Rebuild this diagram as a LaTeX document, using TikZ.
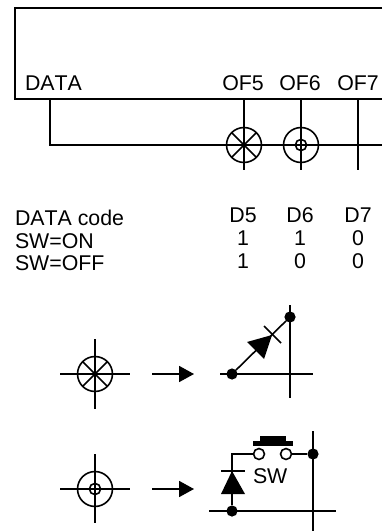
\documentclass[tikz,border=0pt]{standalone}
\usepackage{fontspec}
\setmainfont[Kerning=Off]{Liberation Sans}
\usetikzlibrary{arrows.meta}
\usetikzlibrary{positioning}

\begin{document}
\begin{tikzpicture}[x=0.75pt,y=-0.75pt,line width=1.2pt]
\tikzstyle{txt}=[inner sep=0pt,outer sep=0pt,font=\fontsize{16}{16}\selectfont]
\tikzstyle{lamp}=[circle,draw=black,outer sep=0pt,inner sep=0pt,minimum size=26.2pt]
\tikzstyle{core}=[circle,draw=black,outer sep=0pt,inner sep=0pt,minimum size=8.4pt]
\tikzstyle{contact}=[circle,draw=black,fill=white,outer sep=0pt,inner sep=0pt,minimum size=8.2pt]
\tikzstyle{dot}=[circle,fill=black,outer sep=0pt,inner sep=0pt,minimum size=8.4pt]
\tikzstyle{goes}=[-{Triangle[length=11.2pt,width=12pt]}]
\useasboundingbox (0,0) rectangle (382,531);

% top block
\coordinate (boxtr) at (382,8);
\coordinate (boxtl) at (15,8);
\coordinate (boxbl) at (15,99);
\coordinate (boxbr) at (382,99);
\draw (boxtr) -- (boxtl) -- (boxbl) -- (boxbr);
\node[txt,anchor=base west] (data) at (25,91) {DATA};
\node[txt,anchor=base] (of5) at (243,91) {OF5};
\node[txt,anchor=base] (of6) at (300,91) {OF6};
\node[txt,anchor=base] (of7) at (358,91) {OF7};

% wiring
\coordinate (datatop) at (50,99);
\coordinate (datacorner) at (50,145);
\coordinate (dataend) at (382,145);
\draw (datatop) -- (datacorner) -- (dataend);
\foreach \name/\x in {five/244,six/301,seven/358} {
  \coordinate (\name top) at (\x,99);
  \coordinate (\name bot) at (\x,170);
  \draw (\name top) -- (\name bot);
}
\node[lamp] (lampa) at (244,145) {};
\node[lamp] (lampb) at (301,145) {};
\node[core] (corea) at (301,145) {};
\draw (lampa.north west) -- (lampa.south east);
\draw (lampa.north east) -- (lampa.south west);

% code table
\node[txt,anchor=base west] (code) at (15,225) {DATA code};
\node[txt,anchor=base west] (swon) at (15,248) {SW=ON};
\node[txt,anchor=base west] (swoff) at (15,270) {SW=OFF};
\node[txt,anchor=base] (d5) at (243,222) {D5};
\node[txt,anchor=base] (d6) at (300,222) {D6};
\node[txt,anchor=base] (d7) at (358,222) {D7};
\node[txt,anchor=base] (ona) at (243,245) {1};
\node[txt,anchor=base] (onb) at (300,245) {1};
\node[txt,anchor=base] (onc) at (358,245) {0};
\node[txt,anchor=base] (offa) at (243,268) {1};
\node[txt,anchor=base] (offb) at (300,268) {0};
\node[txt,anchor=base] (offc) at (358,268) {0};

% first key
\coordinate (la) at (60,374);
\coordinate (ra) at (130,374);
\coordinate (ua) at (95,339);
\coordinate (da) at (95,409);
\draw (la) -- (ra);
\draw (ua) -- (da);
\node[lamp] (lampc) at (95,374) {};
\draw (lampc.north west) -- (lampc.south east);
\draw (lampc.north east) -- (lampc.south west);
\coordinate (arra) at (152,374);
\coordinate (arrb) at (194,374);
\draw[goes] (arra) -- (arrb);

\coordinate (hl) at (220,374);
\coordinate (hr) at (313,374);
\coordinate (vu) at (290,305);
\coordinate (vd) at (290,398);
\draw (hl) -- (hr);
\draw (vu) -- (vd);
\node[dot] (anode) at (232,374) {};
\node[dot] (cathode) at (290,317) {};
\draw (anode) -- (cathode);
\fill (272,335) -- (247,342) -- (264,359) -- cycle;
\coordinate (bara) at (264,326);
\coordinate (barb) at (281,343);
\draw (bara) -- (barb);

% second key
\coordinate (lb) at (60,489);
\coordinate (rb) at (130,489);
\coordinate (ub) at (95,454);
\coordinate (db) at (95,523);
\draw (lb) -- (rb);
\draw (ub) -- (db);
\node[lamp] (lampd) at (95,489) {};
\node[core] (cored) at (95,489) {};
\coordinate (arrc) at (152,489);
\coordinate (arrd) at (194,489);
\draw[goes] (arrc) -- (arrd);

\coordinate (hhl) at (209,511);
\coordinate (hhr) at (336,511);
\coordinate (vvu) at (313,431);
\coordinate (vvd) at (313,531);
\draw (hhl) -- (hhr);
\draw (vvu) -- (vvd);
\node[dot] (dota) at (313,454) {};
\node[dot] (dotb) at (232,511) {};
\coordinate (corner) at (232,454);
\node[contact] (swl) at (259,454) {};
\node[contact] (swr) at (286,454) {};
\draw (dotb) -- (corner) -- (swl);
\draw (swr) -- (dota);
\fill (253,441) rectangle (293,446);
\fill (260,436) rectangle (286,441);
\fill (232,471) -- (221,494) -- (245,494) -- cycle;
\coordinate (dbara) at (221,471);
\coordinate (dbarb) at (245,471);
\draw (dbara) -- (dbarb);
\node[txt,anchor=base west] (sw) at (253,483) {SW};
\end{tikzpicture}
\end{document}
